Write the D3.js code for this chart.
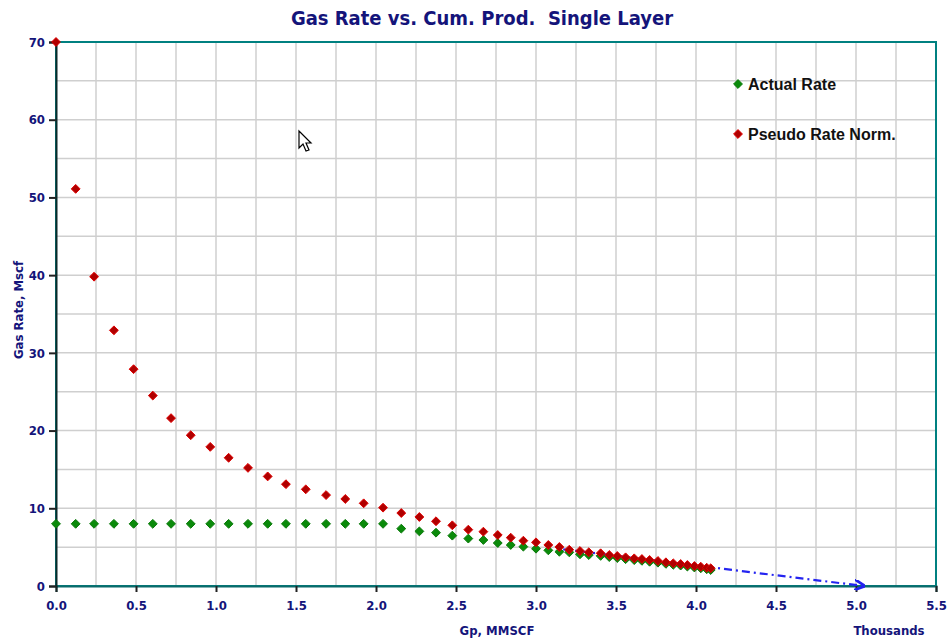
<html>
  <head>
    <title>Gas Rate vs. Cum. Prod.</title>
    <meta charset="utf-8">
    <script src="https://d3js.org/d3.v7.min.js"></script>
    <style>
      body { margin: 0; background: #fff; }
      .narrow { font-family: "Liberation Sans Narrow", "DejaVu Sans Condensed", "Arial Narrow", sans-serif; font-weight: bold; }
    </style>
  </head>
  <body>
    <div id="viz"></div>
<script>
// cumulative production, thousands of MMSCF
const gp = [0, 0.123, 0.238, 0.362, 0.485, 0.605, 0.719, 0.842, 0.964, 1.079,
  1.2, 1.323, 1.437, 1.561, 1.688, 1.808, 1.923, 2.044, 2.158, 2.271,
  2.375, 2.477, 2.577, 2.671, 2.761, 2.842, 2.921, 3.0, 3.077, 3.146,
  3.208, 3.275, 3.33, 3.404, 3.458, 3.508, 3.56, 3.614, 3.662, 3.71,
  3.762, 3.812, 3.858, 3.904, 3.946, 3.99, 4.03, 4.067, 4.092];

const actualRate = [8, 8, 8, 8, 8, 8, 8, 8, 8, 8,
  8, 8, 8, 8, 8, 8, 8, 8, 7.38, 7.03,
  6.86, 6.48, 6.1, 5.92, 5.53, 5.28, 5.06, 4.8, 4.59, 4.41,
  4.33, 4.08, 3.98, 3.88, 3.72, 3.6, 3.45, 3.33, 3.24, 3.12,
  3.0, 2.85, 2.73, 2.63, 2.5, 2.38, 2.28, 2.16, 2.06];

const pseudoRate = [70, 51.1, 39.8, 32.9, 27.9, 24.5, 21.6, 19.4, 17.9, 16.5,
  15.2, 14.1, 13.1, 12.44, 11.7, 11.2, 10.64, 10.08, 9.39, 8.88,
  8.33, 7.81, 7.25, 6.99, 6.56, 6.22, 5.83, 5.62, 5.28, 5.02,
  4.67, 4.5, 4.34, 4.21, 3.99, 3.86, 3.69, 3.56, 3.47, 3.35,
  3.22, 3.05, 2.92, 2.83, 2.7, 2.57, 2.48, 2.35, 2.28];

// straight-line extrapolation drawn on the chart
const trendX = [3.17, 5.05];
const trendY = [4.72, 0];

const xTicks = d3.range(0, 5.51, 0.5);
const yTicks = d3.range(0, 71, 10);

const W = 951, H = 642;
const margin = {top: 42, right: 15, bottom: 56, left: 56};

const svg = d3.select("#viz").append("svg")
  .attr("width", W).attr("height", H);

const x = d3.scaleLinear().domain([0, 5.5]).range([margin.left, W - margin.right]);
const y = d3.scaleLinear().domain([0, 70]).range([H - margin.bottom, margin.top]);

// grid
svg.append("g").selectAll("line")
  .data(d3.range(0.25, 5.5, 0.25))
  .join("line")
    .attr("x1", d => x(d)).attr("x2", d => x(d))
    .attr("y1", y(0)).attr("y2", y(70))
    .attr("stroke", "#cfcfcf").attr("stroke-width", 1.5);
svg.append("g").selectAll("line")
  .data(d3.range(5, 70, 5))
  .join("line")
    .attr("y1", d => y(d)).attr("y2", d => y(d))
    .attr("x1", x(0)).attr("x2", x(5.5))
    .attr("stroke", "#cfcfcf").attr("stroke-width", 1.5);

// frame
svg.append("rect")
  .attr("x", x(0)).attr("y", y(70))
  .attr("width", x(5.5) - x(0)).attr("height", y(0) - y(70))
  .attr("fill", "none").attr("stroke", "#008080").attr("stroke-width", 2);

// axes
const xAxis = svg.append("g")
  .attr("transform", `translate(0,${y(0)})`)
  .call(d3.axisBottom(x).tickValues(xTicks).tickFormat(d3.format(".1f")).tickSize(6).tickPadding(9));
const yAxis = svg.append("g")
  .attr("transform", `translate(${x(0)},0)`)
  .call(d3.axisLeft(y).tickValues(yTicks).tickFormat(d3.format("d")).tickSize(7).tickPadding(4));

[xAxis, yAxis].forEach(a => {
  a.select(".domain").attr("stroke", "#0c2a2a").attr("stroke-width", 2);
  a.selectAll(".tick line").attr("stroke", "#222").attr("stroke-width", 2);
  a.selectAll("text")
    .attr("class", "narrow")
    .attr("font-size", 13)
    .attr("fill", "#14147a");
});
xAxis.select(".domain").attr("stroke", "#0a6a6a");

// trend line
const arrow = svg.append("defs").append("marker")
  .attr("id", "arr").attr("viewBox", "0 0 10 10")
  .attr("refX", 9).attr("refY", 5)
  .attr("markerWidth", 5).attr("markerHeight", 5)
  .attr("orient", "auto");
arrow.append("path").attr("d", "M0,0 L10,5 L0,10").attr("fill", "none")
  .attr("stroke", "#2222ee").attr("stroke-width", 2.5);

svg.append("line")
  .attr("x1", x(trendX[0])).attr("y1", y(trendY[0]))
  .attr("x2", x(trendX[1])).attr("y2", y(trendY[1]))
  .attr("stroke", "#2424f0").attr("stroke-width", 2.2)
  .attr("stroke-dasharray", "8,4,2,4")
  .attr("marker-end", "url(#arr)");

// series
const diamond = d3.symbol().type(d3.symbolDiamond2).size(50);
function drawSeries(vals, fill, edge) {
  svg.append("g").selectAll("path")
    .data(gp.map((g, i) => [g, vals[i]]))
    .join("path")
      .attr("d", diamond)
      .attr("transform", d => `translate(${x(d[0])},${y(d[1])})`)
      .attr("fill", fill)
      .attr("stroke", edge).attr("stroke-width", 1);
}
drawSeries(actualRate, "#0a8a0a", "#0a7a0a");
drawSeries(pseudoRate, "#b00000", "#e00000");

// legend
const legend = [["Actual Rate", "#0a8a0a", "#0a7a0a"], ["Pseudo Rate Norm.", "#b00000", "#e00000"]];
const lg = svg.append("g").selectAll("g")
  .data(legend).join("g")
    .attr("transform", (d, i) => `translate(738,${84 + i * 50})`);
lg.append("path").attr("d", diamond).attr("fill", d => d[1]).attr("stroke", d => d[2]);
lg.append("text")
  .attr("x", 10).attr("dy", "0.36em")
  .attr("font-family", "Liberation Sans, Arial, sans-serif")
  .attr("font-weight", "bold").attr("font-size", 16)
  .attr("fill", "#111")
  .text(d => d[0]);

// titles
svg.append("text")
  .attr("class", "narrow")
  .attr("x", 482).attr("y", 25)
  .attr("text-anchor", "middle")
  .attr("font-size", 20).attr("fill", "#14147a")
  .attr("xml:space", "preserve")
  .text("Gas Rate vs. Cum. Prod.  Single Layer");

svg.append("text")
  .attr("class", "narrow")
  .attr("x", 497).attr("y", 635)
  .attr("text-anchor", "middle")
  .attr("font-size", 13).attr("fill", "#14147a")
  .text("Gp, MMSCF");

svg.append("text")
  .attr("class", "narrow")
  .attr("x", 889).attr("y", 635)
  .attr("text-anchor", "middle")
  .attr("font-size", 13).attr("fill", "#14147a")
  .text("Thousands");

svg.append("text")
  .attr("class", "narrow")
  .attr("transform", "translate(23,310) rotate(-90)")
  .attr("text-anchor", "middle")
  .attr("font-size", 13).attr("fill", "#14147a")
  .text("Gas Rate, Mscf");

// mouse pointer left on the screenshot
svg.append("path")
  .attr("d", "M0,0 L0,17 L4,13 L7,20 L10,19 L7,12 L12,12 Z")
  .attr("transform", "translate(299,131)")
  .attr("fill", "#fff").attr("stroke", "#000").attr("stroke-width", 1.2);
</script>
    </body>
</html>
